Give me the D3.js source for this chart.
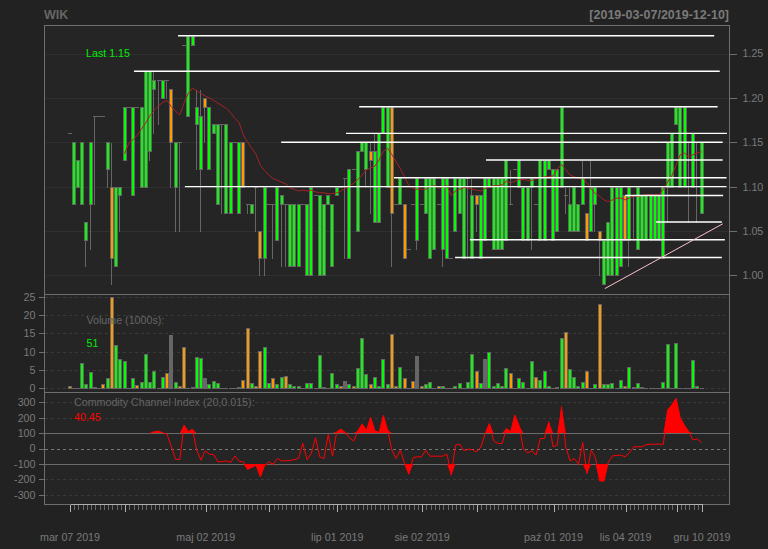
<!DOCTYPE html>
<html><head><meta charset="utf-8">
<script src="https://cdn.jsdelivr.net/npm/d3@7"></script>
<style>
html,body{margin:0;padding:0;background:#222222;}
svg text{font-family:"Liberation Sans",Arial,sans-serif;}
</style></head>
<body>
<svg id="c" width="768" height="549"></svg>
<script>
const symbol = "WIK";
const rangeLabel = "[2019-03-07/2019-12-10]";
const lastText = "Last 1.15";
const volLegend = "Volume (1000s):";
const volLast = "51";
const cciLegend = "Commodity Channel Index (20,0.015):";
const cciLast = "40.45";

const openP = [1.16,1.08,1.10,1.08,1.04,1.08,1.18,1.18,1.18,1.12,
1.10,1.01,1.09,1.13,1.19,1.09,1.19,1.10,1.10,1.14,
1.21,1.22,1.20,1.22,1.21,1.10,1.15,1.26,1.18,1.26,
1.17,1.12,1.20,1.12,1.16,1.08,1.17,1.07,1.07,1.15,
1.07,1.15,1.08,1.07,1.10,1.05,1.02,1.08,1.08,1.04,
1.08,1.08,1.01,1.01,1.01,1.08,1.00,1.00,1.09,1.00,
1.00,1.08,1.01,1.09,1.10,1.11,1.02,1.12,1.05,1.14,
1.12,1.14,1.06,1.06,1.16,1.10,1.19,1.08,1.08,1.08,
1.03,1.08,1.04,1.08,1.07,1.02,1.03,1.08,1.03,1.02,
1.02,1.05,1.07,1.02,1.11,1.02,1.09,1.02,1.04,1.10,
1.03,1.03,1.03,1.04,1.08,1.12,1.10,1.04,1.04,1.10,
1.08,1.04,1.04,1.12,1.04,1.05,1.10,1.09,1.05,1.05,
1.05,1.08,1.07,1.05,1.08,1.05,0.99,1.00,1.00,1.00,
1.01,1.09,1.04,1.09,1.03,1.04,1.04,1.04,1.04,1.04,
1.02,1.10,1.10,1.17,1.10,1.10,1.15,1.10,1.15,1.07];
const highP = [1.16,1.15,1.13,1.15,1.06,1.15,1.18,1.18,1.18,1.15,
1.15,1.10,1.10,1.19,1.19,1.19,1.19,1.19,1.23,1.23,
1.23,1.22,1.22,1.22,1.21,1.15,1.15,1.26,1.27,1.27,
1.21,1.21,1.20,1.19,1.17,1.17,1.17,1.17,1.15,1.15,
1.15,1.15,1.08,1.08,1.10,1.05,1.10,1.08,1.08,1.10,
1.09,1.08,1.08,1.08,1.08,1.08,1.08,1.10,1.09,1.09,
1.08,1.09,1.08,1.10,1.10,1.11,1.12,1.12,1.14,1.15,
1.15,1.15,1.16,1.16,1.19,1.19,1.19,1.08,1.11,1.08,
1.03,1.08,1.11,1.08,1.11,1.11,1.11,1.08,1.11,1.11,
1.02,1.11,1.11,1.11,1.11,1.11,1.09,1.09,1.11,1.11,
1.11,1.11,1.11,1.13,1.12,1.12,1.13,1.10,1.10,1.11,
1.08,1.13,1.13,1.13,1.12,1.12,1.19,1.10,1.10,1.10,
1.08,1.13,1.07,1.13,1.10,1.05,1.04,1.06,1.10,1.10,
1.10,1.09,1.10,1.09,1.10,1.09,1.09,1.09,1.09,1.09,
1.10,1.15,1.16,1.19,1.19,1.19,1.15,1.16,1.15,1.15];
const lowP = [1.16,1.08,1.10,1.08,1.01,1.03,1.08,1.18,1.18,1.10,
0.99,1.01,1.05,1.13,1.19,1.09,1.19,1.10,1.10,1.13,
1.16,1.17,1.20,1.20,1.10,1.05,1.05,1.26,1.18,1.26,
1.12,1.05,1.15,1.12,1.16,1.08,1.07,1.07,1.07,1.15,
1.07,1.10,1.07,1.07,1.05,1.00,1.00,1.08,1.02,1.04,
1.01,1.01,1.01,1.01,1.01,1.08,1.00,1.00,1.09,1.00,
1.00,1.08,1.01,1.09,1.10,1.02,1.02,1.12,1.05,1.14,
1.10,1.07,1.06,1.06,1.16,1.10,1.01,1.08,1.08,1.02,
1.03,1.08,1.03,1.08,1.07,1.02,1.03,1.08,1.01,1.02,
1.02,1.05,1.07,1.02,1.02,1.02,1.05,1.02,1.04,1.10,
1.03,1.03,1.03,1.04,1.08,1.12,1.10,1.04,1.04,1.03,
1.08,1.04,1.04,1.12,1.04,1.05,1.10,1.07,1.05,1.05,
1.05,1.08,1.04,1.05,1.05,1.00,0.99,1.00,1.00,1.00,
1.01,1.04,1.01,1.04,1.03,1.04,1.04,1.04,1.04,1.04,
1.02,1.06,1.10,1.17,1.10,1.10,1.06,1.10,1.06,1.07];
const closeP = [1.16,1.15,1.13,1.15,1.06,1.15,1.18,1.18,1.18,1.15,
1.02,1.10,1.10,1.19,1.19,1.19,1.19,1.19,1.23,1.23,
1.22,1.22,1.22,1.22,1.15,1.15,1.15,1.26,1.27,1.27,
1.19,1.18,1.19,1.19,1.17,1.17,1.17,1.17,1.15,1.15,
1.15,1.10,1.08,1.08,1.10,1.02,1.10,1.08,1.08,1.10,
1.09,1.08,1.08,1.08,1.08,1.08,1.08,1.10,1.09,1.09,
1.08,1.09,1.08,1.10,1.10,1.11,1.12,1.12,1.14,1.15,
1.15,1.13,1.14,1.16,1.19,1.19,1.07,1.08,1.11,1.02,
1.03,1.08,1.11,1.08,1.11,1.11,1.11,1.08,1.11,1.11,
1.02,1.11,1.11,1.11,1.11,1.09,1.08,1.09,1.11,1.11,
1.11,1.11,1.11,1.13,1.08,1.12,1.13,1.10,1.10,1.11,
1.08,1.13,1.13,1.13,1.12,1.12,1.19,1.09,1.08,1.10,
1.08,1.11,1.04,1.10,1.10,1.04,1.04,1.06,1.10,1.10,
1.10,1.04,1.10,1.09,1.10,1.09,1.09,1.09,1.09,1.09,
1.10,1.15,1.16,1.19,1.19,1.19,1.15,1.16,1.15,1.15];

const volume = [0.5,0.1,0.1,6.8,1.1,4.4,0.3,0.1,1.1,2.7,
24.8,11.8,7.9,7.5,0.2,2.7,0.8,1.6,9.3,1.6,
4.7,0.2,3.0,4.1,14.5,1.6,0.5,11.4,0.1,0.3,
8.6,8.4,2.7,1.1,2.0,1.4,0.2,0.2,0.2,0.2,
0.4,2.3,16.4,1.4,0.5,10.3,11.2,1.4,2.7,1.1,
3.0,3.3,1.1,0.6,0.6,0.2,1.4,1.4,0.2,9.1,
0.4,0.2,4.1,1.1,0.6,2.0,1.1,0.6,5.5,13.6,
3.9,1.1,3.0,0.7,7.9,1.1,14.8,0.5,5.9,2.7,
0.2,2.0,8.8,0.5,1.1,1.6,0.2,0.7,0.7,0.2,
0.2,0.5,1.4,0.2,1.6,9.3,4.8,1.4,7.9,9.8,
0.7,1.4,0.5,5.5,4.1,0.2,2.7,1.6,0.2,7.5,
3.2,2.3,4.8,0.5,0.2,0.4,13.6,15.3,5.2,3.0,
0.5,1.6,4.6,0.2,1.1,22.9,1.1,1.1,1.4,0.2,
2.3,0.5,5.7,0.3,1.4,0.3,0.2,0.2,0.2,0.2,
1.6,12.0,0.2,12.3,0.2,0.2,0.2,7.7,0.7,0.05];
// day direction for volume bars: u = up, d = down, n = unchanged
const volDir = ["d","n","n","u","u","u","n","n","d","u",
"d","u","u","u","n","u","d","u","u","u",
"u","n","u","d","n","u","d","d","n","n",
"u","u","n","u","u","u","n","n","n","n",
"n","d","d","u","d","d","u","u","d","u",
"u","d","u","u","u","n","u","u","n","u",
"n","n","u","u","d","n","u","d","u","u",
"u","d","u","u","u","u","d","d","u","d",
"n","d","n","d","u","u","n","d","u","n",
"n","u","u","n","u","u","d","u","n","u",
"u","u","u","u","d","n","u","u","n","u",
"d","u","u","u","n","n","u","d","u","u",
"u","u","d","n","u","d","u","u","u","n",
"u","d","u","n","u","n","n","n","n","n",
"u","u","n","u","n","n","n","u","u","n"];

const smaLine = [null,null,null,null,null,null,null,null,null,null,null,null,null,
1.137,1.149,1.153,1.158,1.165,1.172,1.180,1.186,1.191,1.195,1.197,1.190,1.185,1.181,1.194,1.205,1.211,
1.208,1.205,1.202,1.200,1.197,1.194,1.191,1.188,1.183,1.177,1.172,1.158,1.150,1.143,1.136,1.124,1.118,
1.113,1.109,1.107,1.105,1.103,1.098,1.097,1.095,1.096,1.095,1.096,1.094,1.093,1.093,1.092,1.092,1.093,
1.095,1.098,1.100,1.104,1.108,1.113,1.119,1.121,1.123,1.130,1.140,1.143,1.136,1.128,1.120,1.111,1.101,
1.098,1.097,1.097,1.097,1.100,1.101,1.098,1.100,1.101,1.090,1.095,1.097,1.099,1.098,1.097,1.096,1.095,
1.098,1.099,1.101,1.101,1.102,1.106,1.104,1.106,1.108,1.108,1.107,1.107,1.109,1.110,1.111,1.111,1.112,
1.120,1.125,1.119,1.113,1.111,1.109,1.110,1.104,1.097,1.092,1.089,1.085,1.083,1.085,1.087,1.087,1.085,
1.087,1.089,1.089,1.090,1.091,1.091,1.091,1.091,1.097,1.105,1.112,1.124,1.136,1.138,1.133,1.136,1.138,1.139];

const cciLine = [null,null,null,null,null,null,null,null,null,null,
null,null,null,null,null,null,null,null,null,
98,110,113,102,92,15,-70,-72,152,110,125,
-11,-76,-15,-37,-40,-87,-85,-80,-91,-48,
-83,-87,-137,-122,-109,-185,-109,-87,-102,-65,
-80,-80,-78,-72,-65,33,-72,-33,70,-54,
-65,91,-50,109,126,104,70,48,115,160,
118,202,115,105,215,120,-11,-65,-11,-98,
-167,-60,-54,-54,-11,-50,-50,-50,-50,-37,
-174,22,28,-15,-4,-8,-22,10,98,163,
50,33,33,130,110,217,150,-5,-28,-15,
-43,65,65,174,11,22,272,10,-80,-65,
-102,39,-163,-11,-60,-211,-211,-90,-48,-45,
-43,-54,-28,11,11,11,25,28,28,28,
28,250,283,326,200,150,110,55,62,40.45];

// support / resistance levels: price, first and last position (bar index units)
const levelPrice = [1.27,1.23,1.19,1.16,1.15,1.13,1.11,1.10,1.09,1.06,1.04,1.02];
const levelFrom  = [25.6,15.2,68.3,65.2,49.9,98.2,76.5,27.2,131.0,138.3,94.4,90.9];
const levelTo    = [152.0,153.3,152.8,155.0,154.0,154.0,154.9,154.9,154.1,153.8,154.5,153.8];
const trendIdx = [126.2, 154.0];
const trendPrice = [0.985, 1.058];

const priceTicks = [1.00,1.05,1.10,1.15,1.20,1.25];
const volTicks = [0,5,10,15,20,25];
const cciTicks = [-300,-200,-100,0,100,200,300];
const monthTickIdx = [0,13,32,47,63,83,96,114,131,143,149];
const monthTickLabels = ["mar 07 2019","","maj 02 2019","","lip 01 2019","sie 02 2019","","paź 01 2019","lis 04 2019","","gru 10 2019"];

// ---------- layout ----------
const L = 44.5, R = 729.5, T = 25.5, S1 = 294.5, S2 = 392.5, B = 504.5;
const UP = "#00ff00", DN = "#ff9900", BORDER = "#666666", FG = "#7a7a7a";
const svg = d3.select("#c");
svg.append("rect").attr("width",768).attr("height",549).attr("fill","#222222");

const N = closeP.length;
const x = d3.scaleLinear().domain([0, N-1]).range([69.5, 701.5]);
const yP = d3.scaleLinear().domain([1.00, 1.25]).range([275.3, 53.5]);
const yV = d3.scaleLinear().domain([0, 25]).range([388.3, 296.7]);
const yC = d3.scaleLinear().domain([-300, 300]).range([494.7, 402.3]);

// panel backgrounds
[[T,S1],[S1,S2],[S2,B]].forEach(([a,b]) => {
  svg.append("rect").attr("x",L).attr("y",a).attr("width",R-L).attr("height",b-a).attr("fill","#252525");
});

const defs = svg.append("defs");
defs.append("clipPath").attr("id","cp").append("rect").attr("x",L).attr("y",T).attr("width",R-L).attr("height",S1-T);
defs.append("clipPath").attr("id","cc").append("rect").attr("x",L).attr("y",S2).attr("width",R-L).attr("height",B-S2);

const cr = v => Math.round(v) + 0.5;

// grids
const g = svg.append("g").attr("shape-rendering","crispEdges");
priceTicks.forEach(t => g.append("line").attr("x1",L).attr("x2",R).attr("y1",cr(yP(t))).attr("y2",cr(yP(t))).attr("stroke","#303030"));
volTicks.forEach(t => g.append("line").attr("x1",L).attr("x2",R).attr("y1",cr(yV(t))).attr("y2",cr(yV(t))).attr("stroke","#3a3a3a").attr("stroke-dasharray","3,3"));
cciTicks.forEach(t => {
  const ln = g.append("line").attr("x1",L).attr("x2",R).attr("y1",cr(yC(t))).attr("y2",cr(yC(t)));
  if (Math.abs(t) === 100) ln.attr("stroke","#6a6a6a");
  else if (t === 0) ln.attr("stroke","#777777").attr("stroke-dasharray","3,3");
  else ln.attr("stroke","#3a3a3a").attr("stroke-dasharray","3,3");
});

// ---------- price panel ----------
const pg = svg.append("g").attr("clip-path","url(#cp)");
const cg = pg.append("g").attr("shape-rendering","crispEdges");
closeP.forEach((c,i) => {
  const o = openP[i], h = highP[i], l = lowP[i];
  const px = Math.round(x(i));
  if (h !== l) cg.append("line").attr("x1",px-0.5).attr("x2",px-0.5).attr("y1",cr(yP(h))).attr("y2",cr(yP(l))).attr("stroke",BORDER);
  if (o === c) {
    cg.append("line").attr("x1",px-2).attr("x2",px+2).attr("y1",cr(yP(o))).attr("y2",cr(yP(o))).attr("stroke",BORDER);
  } else {
    const top = cr(yP(Math.max(o,c))), bot = cr(yP(Math.min(o,c)));
    cg.append("rect").attr("x",px-1.5).attr("y",top).attr("width",3).attr("height",bot-top)
      .attr("fill", c > o ? UP : DN).attr("stroke",BORDER);
  }
});

// moving average
pg.append("path").datum(smaLine)
  .attr("d", d3.line().defined(d => d != null).x((d,i) => x(i)).y(d => yP(d)))
  .attr("fill","none").attr("stroke","#a52424").attr("stroke-width",1);

// levels
levelPrice.forEach((p,k) => {
  pg.append("line").attr("x1",x(levelFrom[k])).attr("x2",x(levelTo[k]))
    .attr("y1",yP(p)).attr("y2",yP(p)).attr("stroke","#ffffff").attr("stroke-width",1.4);
});
pg.append("line").attr("x1",x(trendIdx[0])).attr("x2",x(trendIdx[1]))
  .attr("y1",yP(trendPrice[0])).attr("y2",yP(trendPrice[1])).attr("stroke","#ffc0cb").attr("stroke-width",1);

// ---------- volume ----------
const vg = svg.append("g").attr("shape-rendering","crispEdges");
const vcol = {u:UP, d:DN, n:"#666666"};
volume.forEach((v,i) => {
  const px = Math.round(x(i));
  const top = cr(yV(v)), base = cr(yV(0));
  vg.append("rect").attr("x",px-1.5).attr("y",Math.min(top, base-0.5)).attr("width",3)
    .attr("height",Math.max(base-top,0.5)).attr("fill",vcol[volDir[i]]).attr("stroke",BORDER);
});

// ---------- CCI ----------
const ccg = svg.append("g").attr("clip-path","url(#cc)");
ccg.append("path").datum(cciLine)
  .attr("d", d3.area().defined(d => d != null).x((d,i) => x(i)).y0(yC(100)).y1(d => yC(Math.max(d,100))))
  .attr("fill","#ff0000");
ccg.append("path").datum(cciLine)
  .attr("d", d3.area().defined(d => d != null).x((d,i) => x(i)).y0(yC(-100)).y1(d => yC(Math.min(d,-100))))
  .attr("fill","#ff0000");
ccg.append("path").datum(cciLine)
  .attr("d", d3.line().defined(d => d != null).x((d,i) => x(i)).y(d => yC(d)))
  .attr("fill","none").attr("stroke","#ff0000").attr("stroke-width",1);

// ---------- frames ----------
const fr = svg.append("g").attr("shape-rendering","crispEdges").attr("fill","none").attr("stroke","#6e6e6e");
fr.append("rect").attr("x",L).attr("y",T).attr("width",R-L).attr("height",B-T);
fr.append("line").attr("x1",L).attr("x2",R).attr("y1",S1).attr("y2",S1);
fr.append("line").attr("x1",L).attr("x2",R).attr("y1",S2).attr("y2",S2);

// ---------- axes ----------
function styleAxis(sel, tickCol) {
  sel.select(".domain").remove();
  sel.selectAll(".tick line").attr("stroke", tickCol);
  sel.selectAll(".tick text").attr("fill", FG).style("font-size","10.7px").style("font-family","'Liberation Sans',Arial,sans-serif");
  sel.attr("shape-rendering","crispEdges");
}
styleAxis(svg.append("g").attr("transform",`translate(${R},0)`)
  .call(d3.axisRight(yP).tickValues(priceTicks).tickSize(7).tickPadding(6).tickFormat(d3.format(".2f"))), "#6e6e6e");
styleAxis(svg.append("g").attr("transform",`translate(${L},0)`)
  .call(d3.axisLeft(yV).tickValues(volTicks).tickSize(6).tickPadding(3).tickFormat(d3.format("d"))), "#6e6e6e");
styleAxis(svg.append("g").attr("transform",`translate(${L},0)`)
  .call(d3.axisLeft(yC).tickValues(cciTicks).tickSize(6).tickPadding(3).tickFormat(d => d3.format("d")(d).replace("−","-"))), "#6e6e6e");

const minor = svg.append("g").attr("transform",`translate(0,${B})`)
  .call(d3.axisBottom(x).tickValues(d3.range(N)).tickSize(5).tickFormat(""));
styleAxis(minor, "#6a6a6a");
minor.selectAll(".tick line").attr("transform","translate(0.5,0)");
const major = svg.append("g").attr("transform",`translate(0,${B})`)
  .call(d3.axisBottom(x).tickValues(monthTickIdx).tickSize(7).tickFormat(""));
styleAxis(major, "#b0b0b0");
major.selectAll(".tick line").attr("transform","translate(0.5,0)");
svg.append("line").attr("x1",cr(x(0))).attr("x2",cr(x(N-1))).attr("y1",B).attr("y2",B).attr("stroke","#b0b0b0").attr("shape-rendering","crispEdges");
const labs = svg.append("g").attr("transform",`translate(0,${B})`)
  .call(d3.axisBottom(x).tickValues(monthTickIdx).tickSize(0).tickPadding(29).tickFormat((d,k) => monthTickLabels[k]));
styleAxis(labs, "none");

// ---------- texts ----------
svg.append("text").attr("x",44).attr("y",18.5).text(symbol)
  .attr("fill","#666666").style("font-size","12.5px").style("font-weight","bold");
svg.append("text").attr("x",729).attr("y",18.5).attr("text-anchor","end").text(rangeLabel)
  .attr("fill","#7a7a7a").style("font-size","12.5px").style("font-weight","bold");
svg.append("text").attr("x",86).attr("y",56.7).text(lastText).attr("fill","#00ee00").style("font-size","10.7px");
svg.append("text").attr("x",86.5).attr("y",323.5).text(volLegend).attr("fill","#666666").style("font-size","10.7px");
svg.append("text").attr("x",86.5).attr("y",346.7).text(volLast).attr("fill","#00ee00").style("font-size","10.7px");
svg.append("text").attr("x",74).attr("y",406).text(cciLegend).attr("fill","#666666").style("font-size","10.7px");
svg.append("text").attr("x",74).attr("y",421).text(cciLast).attr("fill","#ff0000").style("font-size","10.7px");
</script>
</body></html>
